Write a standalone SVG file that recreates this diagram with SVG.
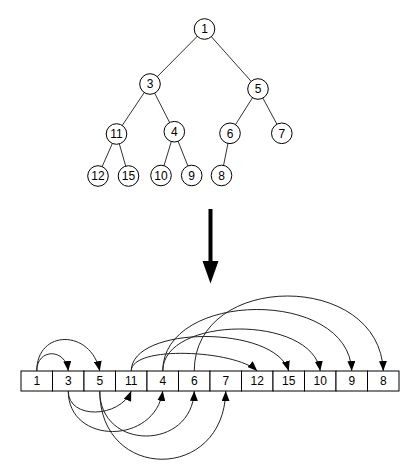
<svg xmlns="http://www.w3.org/2000/svg" width="413" height="475" viewBox="0 0 413 475">
<style>
.edge{stroke:#333;stroke-width:1;fill:none}
.node circle{fill:#fff;stroke:#000;stroke-width:1}
.lbl{font-family:"Liberation Sans",Arial,sans-serif;font-size:12px;fill:#000;text-anchor:middle}
.cell rect{fill:#fff;stroke:#000;stroke-width:1}
.conn path{stroke:#222;stroke-width:1;fill:none;marker-end:url(#ah)}
</style>
<defs>
<marker id="ah" markerUnits="userSpaceOnUse" markerWidth="10" markerHeight="8" viewBox="0 0 10 8" refX="10" refY="4" orient="auto">
<path d="M0,0 L10,4 L0,8 z" fill="#000"/>
</marker>
</defs>
<rect width="413" height="475" fill="#fff"/>
<g id="tree-edges">
<line class="edge" x1="204.5" y1="29" x2="150" y2="84"/>
<line class="edge" x1="204.5" y1="29" x2="258" y2="89"/>
<line class="edge" x1="150" y1="84" x2="116.5" y2="134"/>
<line class="edge" x1="150" y1="84" x2="174.3" y2="131.7"/>
<line class="edge" x1="258" y1="89" x2="230" y2="133.3"/>
<line class="edge" x1="258" y1="89" x2="281.8" y2="133.3"/>
<line class="edge" x1="116.5" y1="134" x2="98" y2="176"/>
<line class="edge" x1="116.5" y1="134" x2="128.5" y2="176"/>
<line class="edge" x1="174.3" y1="131.7" x2="161" y2="175.5"/>
<line class="edge" x1="174.3" y1="131.7" x2="191.7" y2="175.5"/>
<line class="edge" x1="230" y1="133.3" x2="221.5" y2="175.5"/>
</g>
<g id="t1" class="node"><circle cx="204.5" cy="29" r="10.3"/><text class="lbl" x="204.5" y="33.2">1</text></g>
<g id="t3" class="node"><circle cx="150" cy="84" r="10.3"/><text class="lbl" x="150" y="88.2">3</text></g>
<g id="t5" class="node"><circle cx="258" cy="89" r="10.3"/><text class="lbl" x="258" y="93.2">5</text></g>
<g id="t11" class="node"><circle cx="116.5" cy="134" r="10.3"/><text class="lbl" x="116.5" y="138.2">11</text></g>
<g id="t4" class="node"><circle cx="174.3" cy="131.7" r="10.3"/><text class="lbl" x="174.3" y="135.9">4</text></g>
<g id="t6" class="node"><circle cx="230" cy="133.3" r="10.3"/><text class="lbl" x="230" y="137.5">6</text></g>
<g id="t7" class="node"><circle cx="281.8" cy="133.3" r="10.3"/><text class="lbl" x="281.8" y="137.5">7</text></g>
<g id="t12" class="node"><circle cx="98" cy="176" r="10.3"/><text class="lbl" x="98" y="180.2">12</text></g>
<g id="t15" class="node"><circle cx="128.5" cy="176" r="10.3"/><text class="lbl" x="128.5" y="180.2">15</text></g>
<g id="t10" class="node"><circle cx="161" cy="175.5" r="10.3"/><text class="lbl" x="161" y="179.7">10</text></g>
<g id="t9" class="node"><circle cx="191.7" cy="175.5" r="10.3"/><text class="lbl" x="191.7" y="179.7">9</text></g>
<g id="t8" class="node"><circle cx="221.5" cy="175.5" r="10.3"/><text class="lbl" x="221.5" y="179.7">8</text></g>
<g id="big-arrow">
<rect x="208.5" y="209" width="4" height="54" fill="#000"/>
<polygon points="202.5,261 218.5,261 210.5,283.5" fill="#000"/>
</g>
<g id="array">
<g id="a0" class="cell"><rect x="21" y="371" width="31.5" height="20"/><text class="lbl" x="36.75" y="385.2">1</text></g>
<g id="a1" class="cell"><rect x="52.5" y="371" width="31.5" height="20"/><text class="lbl" x="68.25" y="385.2">3</text></g>
<g id="a2" class="cell"><rect x="84" y="371" width="31.5" height="20"/><text class="lbl" x="99.75" y="385.2">5</text></g>
<g id="a3" class="cell"><rect x="115.5" y="371" width="31.5" height="20"/><text class="lbl" x="131.25" y="385.2">11</text></g>
<g id="a4" class="cell"><rect x="147" y="371" width="31.5" height="20"/><text class="lbl" x="162.75" y="385.2">4</text></g>
<g id="a5" class="cell"><rect x="178.5" y="371" width="31.5" height="20"/><text class="lbl" x="194.25" y="385.2">6</text></g>
<g id="a6" class="cell"><rect x="210" y="371" width="31.5" height="20"/><text class="lbl" x="225.75" y="385.2">7</text></g>
<g id="a7" class="cell"><rect x="241.5" y="371" width="31.5" height="20"/><text class="lbl" x="257.25" y="385.2">12</text></g>
<g id="a8" class="cell"><rect x="273" y="371" width="31.5" height="20"/><text class="lbl" x="288.75" y="385.2">15</text></g>
<g id="a9" class="cell"><rect x="304.5" y="371" width="31.5" height="20"/><text class="lbl" x="320.25" y="385.2">10</text></g>
<g id="a10" class="cell"><rect x="336" y="371" width="31.5" height="20"/><text class="lbl" x="351.75" y="385.2">9</text></g>
<g id="a11" class="cell"><rect x="367.5" y="371" width="31.5" height="20"/><text class="lbl" x="383.25" y="385.2">8</text></g>
</g>
<g id="connectors" class="conn">
<path d="M36.75,371 C36.75,348 66,348 68.25,371"/>
<path d="M36.75,371 C36.75,329 91,329 99.75,371"/>
<path d="M131.25,371 C131.25,345 235,350 257.25,371"/>
<path d="M131.25,371 C131.25,325 275,325 288.75,371"/>
<path d="M162.75,371 C162.75,316 312,314 320.25,371"/>
<path d="M162.75,371 C162.75,290 349,288 351.75,371"/>
<path d="M194.25,371 C194.25,271 380,271 383.25,371"/>
<path d="M68.25,391 C68.25,420 120,418 131.25,391"/>
<path d="M68.25,391 C68.25,445 155,445 162.75,391"/>
<path d="M99.75,391 C99.75,451 192,451 194.25,391"/>
<path d="M99.75,391 C99.75,482 224,482 225.75,391"/>
</g>
</svg>
